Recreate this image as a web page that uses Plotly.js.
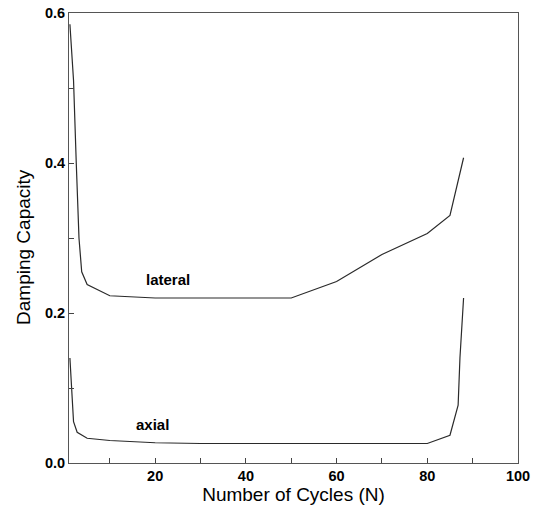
<!DOCTYPE html>
<html>
<head>
<meta charset="utf-8">
<script src="https://cdn.plot.ly/plotly-3.0.1.min.js"></script>
<style>html,body{margin:0;padding:0;background:#fff;}#chart{width:542px;height:509px;}</style>
</head>
<body>
<div id="chart"></div>
<script>
// Lateral damping capacity vs number of cycles
const lateralX = [1.2, 2.0, 2.6, 3.2, 3.8, 5, 10, 20, 30, 40, 50, 60, 70, 80, 85, 88];
const lateralY = [0.585, 0.51, 0.40, 0.30, 0.255, 0.238, 0.223, 0.22, 0.22, 0.22, 0.22, 0.242, 0.278, 0.306, 0.33, 0.407];
// Axial damping capacity vs number of cycles
const axialX = [1.2, 1.5, 2.0, 2.8, 5, 10, 20, 30, 40, 50, 60, 70, 78, 80, 85, 86.8, 87.2, 88];
const axialY = [0.14, 0.10, 0.055, 0.041, 0.033, 0.030, 0.027, 0.026, 0.026, 0.026, 0.026, 0.026, 0.025, 0.026, 0.037, 0.077, 0.14, 0.22];

const xTickVals = [10, 20, 30, 40, 50, 60, 70, 80, 90, 100];
const xTickText = ['', '20', '', '40', '', '60', '', '80', '', '100'];
const yTickVals = [0, 0.1, 0.2, 0.3, 0.4, 0.5, 0.6];
const yTickText = ['0.0', '', '0.2', '', '0.4', '', '0.6'];

const seriesNames = ['lateral', 'axial'];
const labelPos = [[22.8, 0.245], [19.3, 0.051]];
const yTitleText = 'Damping Capacity';
const xTitleText = 'Number of Cycles (N)';

const lineStyle = {color: '#2a2a2a', width: 1.2};
const traces = [
  {x: lateralX, y: lateralY, mode: 'lines', line: lineStyle, name: seriesNames[0], hoverinfo: 'x+y'},
  {x: axialX, y: axialY, mode: 'lines', line: lineStyle, name: seriesNames[1], hoverinfo: 'x+y'}
];

const fam = 'Liberation Sans, Arial, sans-serif';
const tickFont = {family: fam, size: 14.5, color: '#000', weight: 'bold'};
const layout = {
  width: 542, height: 509,
  margin: {l: 69, r: 24, t: 13, b: 46},
  paper_bgcolor: '#fff', plot_bgcolor: '#fff',
  showlegend: false,
  font: {family: fam, color: '#000'},
  xaxis: {
    range: [1, 100], showgrid: false, zeroline: false,
    showline: true, linecolor: '#555', linewidth: 1, mirror: true,
    ticks: 'inside', ticklen: 5, tickcolor: '#444', tickwidth: 1,
    tickvals: xTickVals, ticktext: xTickText,
    tickfont: tickFont,
    title: {text: xTitleText, font: {family: fam, size: 19, color: '#000'}, standoff: 4}
  },
  yaxis: {
    range: [0, 0.6], showgrid: false, zeroline: false,
    showline: true, linecolor: '#555', linewidth: 1, mirror: true,
    ticks: 'inside', ticklen: 5, tickcolor: '#444', tickwidth: 1,
    tickvals: yTickVals, ticktext: yTickText,
    tickfont: tickFont
  },
  annotations: seriesNames.map((n, i) => ({
    x: labelPos[i][0], y: labelPos[i][1], xref: 'x', yref: 'y',
    text: n, showarrow: false,
    font: {family: fam, size: 15, color: '#000', weight: 'bold'}
  })).concat([{
    x: -0.1025, y: 0.48, xref: 'paper', yref: 'paper',
    xanchor: 'center', yanchor: 'middle', textangle: -90,
    text: yTitleText, showarrow: false,
    font: {family: fam, size: 19, color: '#000'}
  }])
};

Plotly.newPlot('chart', traces, layout, {displayModeBar: false, staticPlot: true});
</script>
</body>
</html>
